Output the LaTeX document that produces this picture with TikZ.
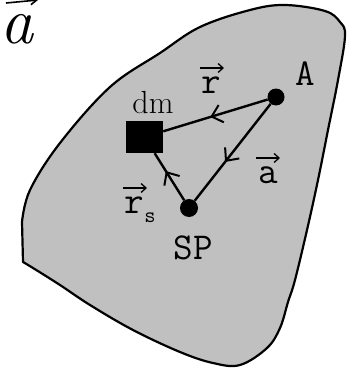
\RequirePackage{fix-cm}
\documentclass[tikz,border=0pt]{standalone}
\usepackage{fontspec}
\usetikzlibrary{arrows.meta,decorations.markings}
\definecolor{bodygray}{RGB}{192,192,192}
\tikzset{
  body/.style={fill=bodygray, draw=black, line width=2.2pt, line join=round},
  dot/.style={circle, fill=black, inner sep=0pt, minimum size=17pt},
  mass/.style={rectangle, fill=black, inner sep=0pt, minimum width=37pt, minimum height=32pt},
  vecline/.style={line width=2.4pt, postaction={decorate},
    decoration={markings, mark=at position #1 with {\arrow{Straight Barb[length=10pt,width=18pt,line width=2pt]}}}},
  lbl/.style={font=\fontsize{38}{38}\selectfont\ttfamily, inner sep=0pt},
  romlbl/.style={font=\fontsize{32}{32}\selectfont, inner sep=0pt},
  veclbl/.style={font=\fontsize{38}{38}\selectfont\ttfamily, inner sep=0pt, anchor=base},
  sublbl/.style={font=\fontsize{22}{22}\selectfont\ttfamily, inner sep=0pt, anchor=base},
  overarrow/.style={line width=1.5pt, -{Straight Barb[length=5pt,width=9pt,line width=1.3pt]}}
}
\begin{document}
\begin{tikzpicture}[x=1pt,y=-1pt]
\useasboundingbox (0,0) rectangle (351,369);
% body
\draw[body] (23,262) -- (22,222) -- plot[smooth, tension=0.6] coordinates {
  (22,222) (30,190) (60,143) (110,87) (160,53) (200,27) (250,10) (285,5)
  (325,11) (340,22) (345,36) (338,80) (328,130) (318,180) (307,230)
  (295,280) (288,302) (280,328) (267,348) (240,365) (213,363) (180,352)
  (133,330) (90,305) (60,285) (33,268) (23,262)} -- cycle;
% big vector a
\node[inner sep=0pt, anchor=base west, font=\fontsize{66}{66}\selectfont\itshape] (biga) at (0,44) {a};
\coordinate (bigaL) at (6,3);
\coordinate (bigaR) at (38,0);
\draw[line width=1.6pt, -{Straight Barb[length=6pt,width=8pt]}] (bigaL) -- (bigaR);
% points
\node[dot] (A) at (276,97) {};
\node[dot, minimum size=18pt] (SP) at (189,208) {};
\node[mass] (dm) at (144.5,137) {};
% connectors
\draw[vecline=0.55] (A) -- (dm);
\draw[vecline=0.6] (A) -- (SP);
\draw[vecline=0.62] (SP) -- (dm);
% labels
\node[lbl] (lA) at (305,74) {A};
\node[romlbl] (ldm) at (153,103) {dm};
\node[lbl] (lSP) at (193,248) {SP};
% vector r
\node[veclbl] (lr) at (211,93) {r};
\coordinate (lrL) at (200,68);
\coordinate (lrR) at (224,68);
\draw[overarrow] (lrL) -- (lrR);
% vector a
\node[veclbl] (la) at (268,183) {a};
\coordinate (laL) at (256,158);
\coordinate (laR) at (280,158);
\draw[overarrow] (laL) -- (laR);
% vector r_s
\node[veclbl] (lrs) at (134,213) {r};
\node[sublbl] (ls) at (150,222) {s};
\coordinate (lrsL) at (123,188);
\coordinate (lrsR) at (147,188);
\draw[overarrow] (lrsL) -- (lrsR);
\end{tikzpicture}
\end{document}
